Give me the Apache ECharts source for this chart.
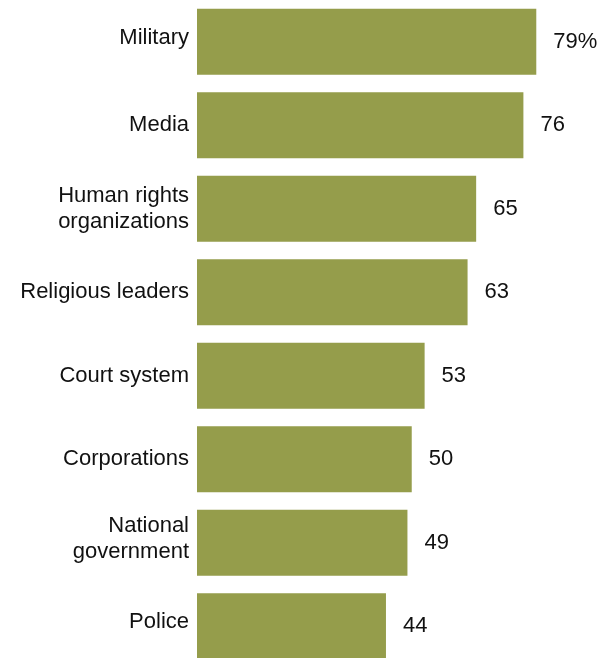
<!DOCTYPE html>
<html>
<head>
<meta charset="utf-8">
<script src="https://cdn.jsdelivr.net/npm/echarts@6/dist/echarts.min.js"></script>
<style>
  html, body { margin: 0; padding: 0; background: #ffffff; overflow: hidden; }
  /* the plot runs slightly past the bottom of the page, so the last bar is cut off */
  #chart { width: 605px; height: 668px; }
</style>
</head>
<body>
<div id="chart"></div>
<script>
// Institutions and the share rating each one positively (%)
var categories = [
  'Military',
  'Media',
  'Human rights\norganizations',
  'Religious leaders',
  'Court system',
  'Corporations',
  'National\ngovernment',
  'Police'
];
var values = [79, 76, 65, 63, 53, 50, 49, 44];

// labels that sit a little above their bar's centre
var raisedLabels = ['Military', 'National\ngovernment', 'Police'];

var chart = echarts.init(document.getElementById('chart'), null, { renderer: 'canvas' });

var fontFamily = '"Liberation Sans", Arial, sans-serif';

chart.setOption({
  animation: false,
  backgroundColor: '#ffffff',
  grid: {
    left: 197,
    top: 0,
    right: 0,
    bottom: 0,
    containLabel: false
  },
  xAxis: {
    type: 'value',
    min: 0,
    max: 95,
    show: false
  },
  yAxis: {
    type: 'category',
    inverse: true,
    data: categories,
    axisLine: { show: false },
    axisTick: { show: false },
    splitLine: { show: false },
    axisLabel: {
      margin: 8,
      color: '#111111',
      fontFamily: fontFamily,
      fontSize: 22,
      lineHeight: 26,
      align: 'right',
      formatter: function (value) {
        // an empty short line underneath lifts the text block a few pixels
        return raisedLabels.indexOf(value) >= 0 ? value + '\n{s|}' : value;
      },
      rich: {
        s: { lineHeight: 8, fontSize: 1, height: 8 }
      }
    }
  },
  series: [{
    type: 'bar',
    data: values,
    barWidth: 66,
    itemStyle: { color: '#959d4b' },
    label: {
      show: true,
      position: 'right',
      distance: 17,
      color: '#111111',
      fontFamily: fontFamily,
      fontSize: 22,
      formatter: function (p) {
        return p.dataIndex === 0 ? p.value + '%' : String(p.value);
      }
    }
  }]
});
</script>
</body>
</html>
